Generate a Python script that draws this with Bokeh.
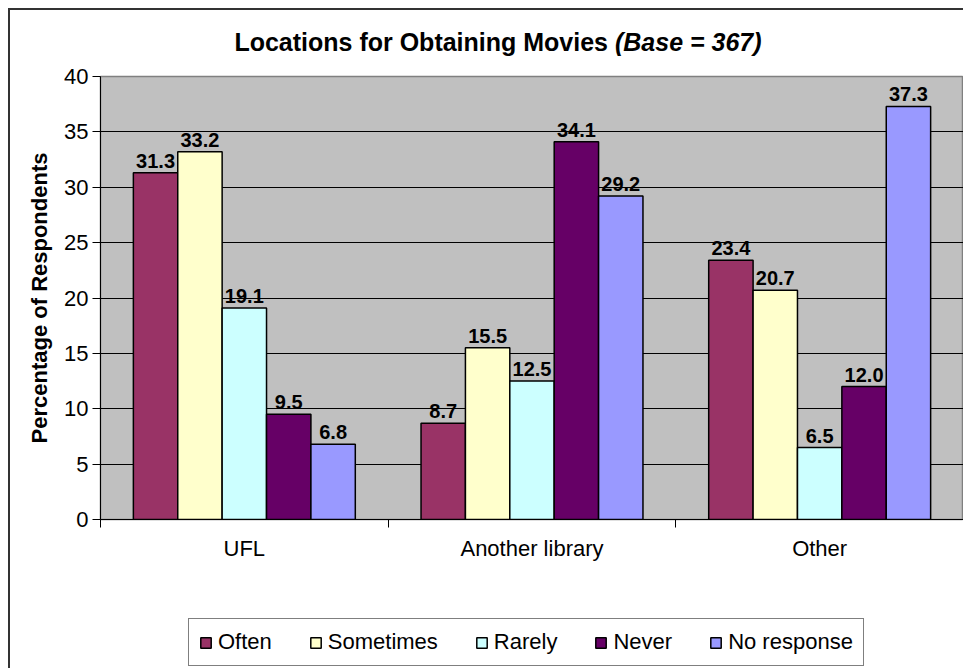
from bokeh.plotting import figure
from bokeh.layouts import column
from bokeh.models import (ColumnDataSource, FixedTicker, Legend, LegendItem,
                          LabelSet, Div)
from bokeh.core.properties import value
from bokeh.embed import file_html
from bokeh.resources import INLINE

# ---- data ----
categories = ["UFL", "Another library", "Other"]
series = ["Often", "Sometimes", "Rarely", "Never", "No response"]
often = [31.3, 8.7, 23.4]
sometimes = [33.2, 15.5, 20.7]
rarely = [19.1, 12.5, 6.5]
never = [9.5, 34.1, 12.0]
no_response = [6.8, 29.2, 37.3]
colors = ["#993366", "#FFFFCC", "#CCFFFF", "#660066", "#9999FF"]
y_ticks = [0, 5, 10, 15, 20, 25, 30, 35, 40]
grid_ticks = [5, 10, 15, 20, 25, 30, 35]
title_main = "Locations for Obtaining Movies"
title_base = "(Base = 367)"
y_label = "Percentage of Respondents"

values = [often, sometimes, rarely, never, no_response]

FONT = "Liberation Sans"
BAR_W = 0.1543

title = Div(
    text=f"<b>{title_main} <i>{title_base}</i></b>",
    width=953, height=50, margin=0,
    styles={"font-family": FONT, "font-size": "25px", "line-height": "28px",
            "color": "black", "text-align": "center",
            "padding-top": "18px", "padding-left": "23px",
            "box-sizing": "border-box"},
)

p = figure(width=953, height=509, x_range=(0, 3), y_range=(0, 40),
           output_backend="svg", toolbar_location=None,
           min_border_left=90, min_border_right=0, min_border_top=16,
           min_border_bottom=50, margin=0)
p.background_fill_color = "#C0C0C0"
p.border_fill_color = "white"
p.outline_line_color = "#808080"
p.outline_line_width = 1.5

p.xgrid.visible = False
p.ygrid.ticker = FixedTicker(ticks=grid_ticks)
p.ygrid.grid_line_color = "black"
p.ygrid.grid_line_width = 1

# legend strip (separate, below the chart); its bars are hidden, only swatches show
pl = figure(width=953, height=99, x_range=(0, 3), y_range=(-1000, -999),
            x_axis_type=None, y_axis_type=None,
            output_backend="svg", toolbar_location=None,
            min_border=0, margin=0)
pl.outline_line_color = None
pl.background_fill_color = "white"
pl.border_fill_color = "white"
pl.xgrid.visible = False
pl.ygrid.visible = False

centers = [i + 0.5 for i in range(len(categories))]
items = []
for k, (name, vals, col) in enumerate(zip(series, values, colors)):
    off = (k - 2) * BAR_W
    src = ColumnDataSource(dict(
        x=[c + off for c in centers],
        top=vals,
        lab=[f"{v:.1f}" for v in vals],
    ))
    p.vbar(x="x", top="top", bottom=0, width=BAR_W, source=src,
           fill_color=col, line_color="black", line_width=1.5)
    ls = LabelSet(x="x", y="top", text="lab", source=src,
                  text_align="center", text_baseline="bottom", y_offset=5,
                  text_font=value(FONT), text_font_style="bold",
                  text_font_size="20px", text_color="black")
    p.add_layout(ls)
    r = pl.vbar(x="x", top="top", bottom=0, width=BAR_W, source=src,
                fill_color=col, line_color="black", line_width=1.5)
    r.visible = False
    items.append(LegendItem(label=name, renderers=[r]))

# y axis
p.yaxis.ticker = FixedTicker(ticks=y_ticks)
p.yaxis.major_tick_in = 0
p.yaxis.major_tick_out = 8
p.yaxis.minor_tick_line_color = None
p.yaxis.axis_line_color = "black"
p.yaxis.major_tick_line_color = "black"
p.yaxis.major_label_text_font = FONT
p.yaxis.major_label_text_font_size = "22px"
p.yaxis.major_label_text_color = "black"
p.yaxis.major_label_standoff = 4
p.yaxis.axis_label = y_label
p.yaxis.axis_label_text_font = FONT
p.yaxis.axis_label_text_font_style = "bold"
p.yaxis.axis_label_text_font_size = "22px"
p.yaxis.axis_label_text_color = "black"
p.yaxis.axis_label_standoff = 9

# x axis
p.xaxis.ticker = FixedTicker(ticks=centers, minor_ticks=[0, 1, 2, 3])
p.xaxis.major_label_overrides = {c: cat for c, cat in zip(centers, categories)}
p.xaxis.major_tick_line_color = None
p.xaxis.major_tick_out = 6
p.xaxis.minor_tick_in = 0
p.xaxis.minor_tick_out = 8
p.xaxis.minor_tick_line_color = "black"
p.xaxis.axis_line_color = "black"
p.xaxis.major_label_text_font = FONT
p.xaxis.major_label_text_font_size = "22px"
p.xaxis.major_label_text_color = "black"
p.xaxis.major_label_standoff = 8

legend = Legend(items=items, orientation="horizontal", location=(88, 2))
legend.click_policy = "none"
legend.inactive_fill_alpha = 0
legend.border_line_color = "black"
legend.border_line_width = 1
legend.background_fill_color = "white"
legend.background_fill_alpha = 1
legend.label_text_font = FONT
legend.label_text_font_size = "22px"
legend.label_text_color = "black"
legend.glyph_width = 13
legend.glyph_height = 13
legend.label_standoff = 6
legend.spacing = 37
legend.padding = 10
legend.margin = 0
pl.add_layout(legend)

root = column(title, p, pl, spacing=0,
              styles={"margin-left": "8px", "margin-top": "8px",
                      "border-left": "2px solid #333333",
                      "border-top": "2px solid #333333",
                      "background-color": "white"})

open("out.html", "w").write(file_html(root, INLINE))
